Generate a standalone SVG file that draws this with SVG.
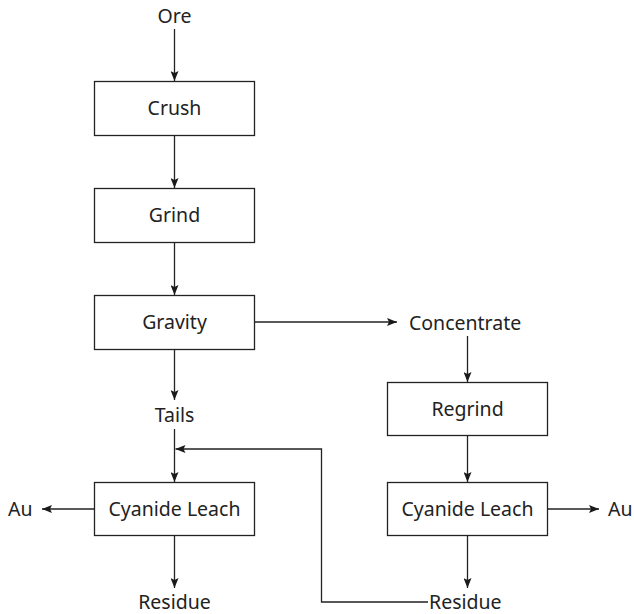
<svg xmlns="http://www.w3.org/2000/svg" width="634" height="614" viewBox="0 0 634 614">
  <defs>
    <marker id="arrow" viewBox="0 0 10 8" refX="10" refY="4" markerWidth="10" markerHeight="8" markerUnits="userSpaceOnUse" orient="auto">
      <path d="M0,0 L10,4 L0,8 L2,4 Z" fill="#1a1a1a"/>
    </marker>
  </defs>
  <style>
    text { font-family: "Noto Sans", "Open Sans", sans-serif; font-size: 19.5px; fill: #222; }
    .box { fill: #fff; stroke: #222; stroke-width: 1.3; }
    .link { fill: none; stroke: #222; stroke-width: 1.3; }
    .mid { text-anchor: middle; }
  </style>
  <rect width="634" height="614" fill="#fff"/>

  <g id="connectors">
    <line class="link" x1="174.5" y1="29" x2="174.5" y2="81" marker-end="url(#arrow)"/>
    <line class="link" x1="174.5" y1="135" x2="174.5" y2="188" marker-end="url(#arrow)"/>
    <line class="link" x1="174.5" y1="242" x2="174.5" y2="295" marker-end="url(#arrow)"/>
    <line class="link" x1="254" y1="322" x2="397" y2="322" marker-end="url(#arrow)"/>
    <line class="link" x1="174.5" y1="349" x2="174.5" y2="400" marker-end="url(#arrow)"/>
    <line class="link" x1="174.5" y1="429" x2="174.5" y2="482" marker-end="url(#arrow)"/>
    <polyline class="link" points="428,602 321.5,602 321.5,449 175.5,449" marker-end="url(#arrow)"/>
    <line class="link" x1="467.5" y1="336" x2="467.5" y2="382" marker-end="url(#arrow)"/>
    <line class="link" x1="467.5" y1="435" x2="467.5" y2="482" marker-end="url(#arrow)"/>
    <line class="link" x1="94" y1="509" x2="42" y2="509" marker-end="url(#arrow)"/>
    <line class="link" x1="174.5" y1="536" x2="174.5" y2="588" marker-end="url(#arrow)"/>
    <line class="link" x1="548" y1="509" x2="599" y2="509" marker-end="url(#arrow)"/>
    <line class="link" x1="467.5" y1="536" x2="467.5" y2="588" marker-end="url(#arrow)"/>
  </g>

  <g id="ore"><text class="mid" x="174.5" y="23">Ore</text></g>
  <g id="crush">
    <rect class="box" x="94.5" y="81.5" width="160" height="54"/>
    <text class="mid" x="174.5" y="115">Crush</text>
  </g>
  <g id="grind">
    <rect class="box" x="94.5" y="188.5" width="160" height="54"/>
    <text class="mid" x="174.5" y="222">Grind</text>
  </g>
  <g id="gravity">
    <rect class="box" x="94.5" y="295.5" width="160" height="54"/>
    <text class="mid" x="174.5" y="329">Gravity</text>
  </g>
  <g id="concentrate"><text x="409" y="330">Concentrate</text></g>
  <g id="tails"><text class="mid" x="174.5" y="422">Tails</text></g>
  <g id="regrind">
    <rect class="box" x="387.5" y="382.5" width="160" height="53"/>
    <text class="mid" x="467.5" y="416">Regrind</text>
  </g>
  <g id="leach-left">
    <rect class="box" x="94.5" y="482.5" width="160" height="53"/>
    <text class="mid" x="174.5" y="516">Cyanide Leach</text>
  </g>
  <g id="leach-right">
    <rect class="box" x="387.5" y="482.5" width="160" height="53"/>
    <text class="mid" x="467.5" y="516">Cyanide Leach</text>
  </g>
  <g id="au-left"><text x="8" y="516">Au</text></g>
  <g id="au-right"><text x="608" y="516">Au</text></g>
  <g id="residue-left"><text class="mid" x="174.5" y="609">Residue</text></g>
  <g id="residue-right"><text x="429" y="609">Residue</text></g>
</svg>
